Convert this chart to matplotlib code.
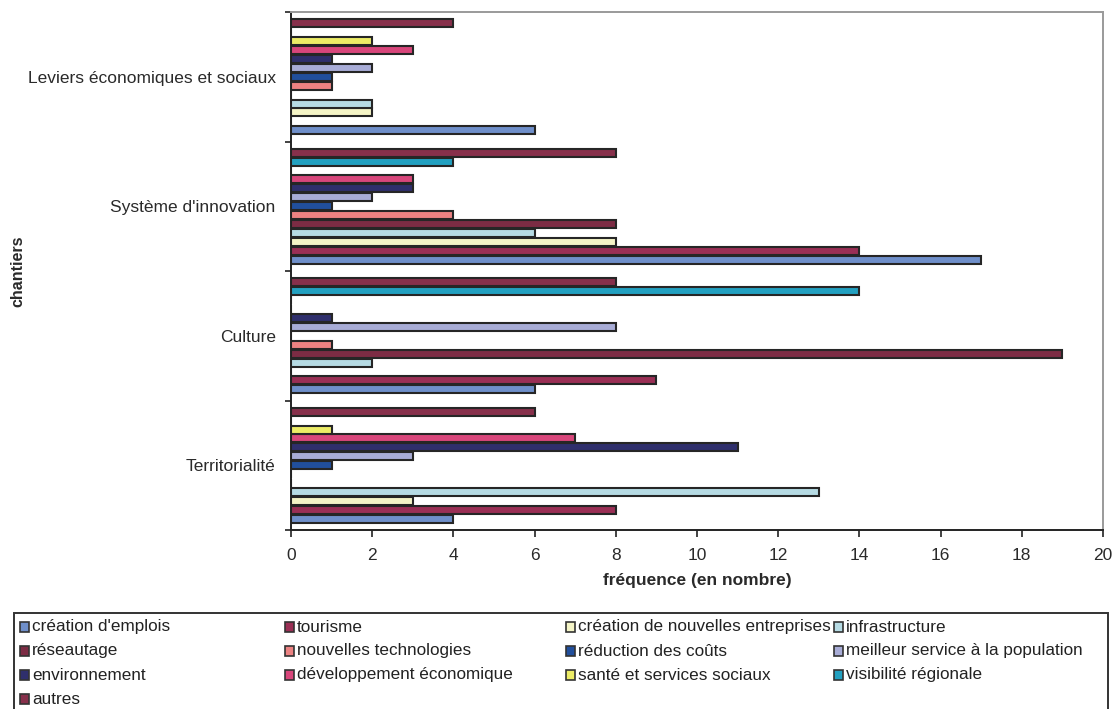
import numpy as np
import matplotlib
matplotlib.use("Agg")
import matplotlib.pyplot as plt
from matplotlib.patches import Rectangle

plt.rcParams['font.family'] = ['Liberation Sans', 'DejaVu Sans']

# Chantiers, bottom to top as drawn
chantiers = ["Territorialité", "Culture", "Système d'innovation",
             "Leviers économiques et sociaux"]

series_labels = [
    "création d'emplois", "tourisme", "création de nouvelles entreprises",
    "infrastructure", "réseautage", "nouvelles technologies",
    "réduction des coûts", "meilleur service à la population",
    "environnement", "développement économique",
    "santé et services sociaux", "visibilité régionale", "autres",
]

series_colors = [
    "#6f8fca", "#9a2f55", "#f4f4c6", "#b6dbe4", "#7c2c44", "#ec8282",
    "#214f9c", "#a8acd6", "#2f2f6c", "#d8467b", "#ecec66", "#22a0c0",
    "#87304b",
]

# Frequencies per series, one value per chantier (same order as chantiers)
creation_emplois   = [4, 6, 17, 6]
tourisme           = [8, 9, 14, 0]
nouvelles_entrep   = [3, 0, 8, 2]
infrastructure     = [13, 2, 6, 2]
reseautage         = [0, 19, 8, 0]
nouv_technologies  = [0, 1, 4, 1]
reduction_couts    = [1, 0, 1, 1]
meilleur_service   = [3, 8, 2, 2]
environnement      = [11, 1, 3, 1]
dev_economique     = [7, 0, 3, 3]
sante_services     = [1, 0, 0, 2]
visibilite         = [0, 14, 4, 0]
autres             = [6, 8, 8, 4]

values = [creation_emplois, tourisme, nouvelles_entrep, infrastructure,
          reseautage, nouv_technologies, reduction_couts, meilleur_service,
          environnement, dev_economique, sante_services, visibilite, autres]

xticks = [0, 2, 4, 6, 8, 10, 12, 14, 16, 18, 20]

W, H = 1116, 709
fig = plt.figure(figsize=(W / 100, H / 100), dpi=100)
ax = fig.add_axes([291 / W, 1 - 530 / H, (1103 - 291) / W, (530 - 12) / H])

n = len(series_labels)
gap = 1.5
bh = 1.0 / (n + gap)
base = np.arange(len(chantiers))
for j, (vals, col, lab) in enumerate(zip(values, series_colors, series_labels)):
    y = base - 0.5 + bh * (gap / 2 + j + 0.5)
    ax.barh(y, vals, height=bh * 0.9, color=col, edgecolor="#262626",
            linewidth=1.5, label=lab)

ax.set_xlim(0, 20)
ax.set_ylim(-0.5, len(chantiers) - 0.5)
ax.set_xticks(xticks)
ax.set_xticklabels([str(t) for t in xticks], fontsize=12.5)
ax.tick_params(axis="x", direction="out", length=5, width=1.2, pad=8,
               colors="#222222", labelcolor="#2a2a2a")

ax.set_yticks(base)
ax.set_yticklabels(chantiers, fontsize=12.5, color="#2a2a2a")
ax.tick_params(axis="y", which="major", length=0, pad=11)
ax.set_yticks(np.arange(len(chantiers) + 1) - 0.5, minor=True)
ax.tick_params(axis="y", which="minor", direction="out", length=4, width=1.2,
               colors="#222222")

for side in ("top", "right"):
    ax.spines[side].set_color("#9a9a9a")
    ax.spines[side].set_linewidth(1.4)
for side in ("left", "bottom"):
    ax.spines[side].set_color("#222222")
    ax.spines[side].set_linewidth(1.4)

fig.text(697 / W, 1 - 580 / H, "fréquence (en nombre)", ha="center",
         va="center", fontsize=12.5, fontweight="bold", color="#2a2a2a")
fig.text(18 / W, 1 - 271 / H, "chantiers", ha="center", va="center",
         rotation=90, fontsize=11.5, fontweight="bold", color="#2a2a2a")

# Legend box, entries laid out row by row in four columns
fig.add_artist(Rectangle((14 / W, 1 - 760 / H), (1108 - 14) / W, (760 - 613) / H,
                         transform=fig.transFigure, facecolor="white",
                         edgecolor="#333333", linewidth=1.4))
col_x = [20, 285, 566, 834]
row_y = [627, 651, 675, 699]
for k, (lab, col) in enumerate(zip(series_labels, series_colors)):
    r, c = divmod(k, 4)
    px, py = col_x[c], row_y[r]
    fig.add_artist(Rectangle((px / W, 1 - (py + 5) / H), 9 / W, 10 / H,
                             transform=fig.transFigure, facecolor=col,
                             edgecolor="#333333", linewidth=1.2))
    fig.text((px + 12) / W, 1 - py / H, lab, ha="left", va="center",
             fontsize=12.3, color="#222222")

fig.savefig("out.png", dpi=100, facecolor="white")
